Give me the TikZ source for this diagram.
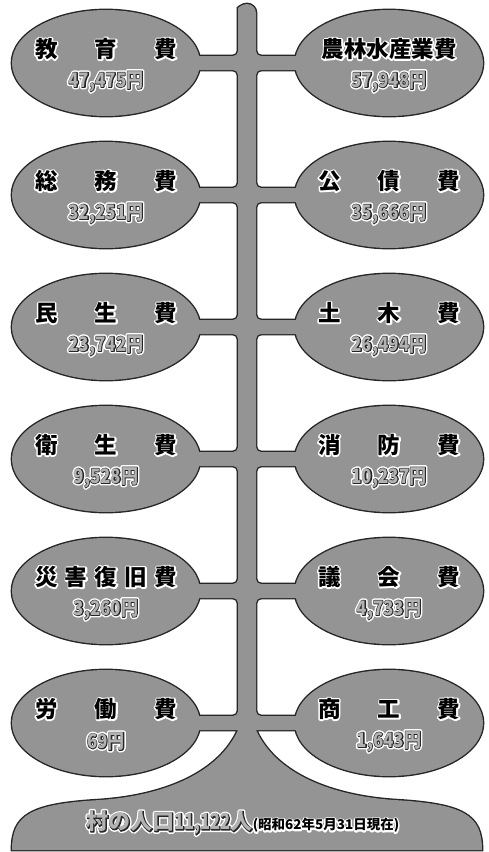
\documentclass[tikz,border=0pt]{standalone}
\usepackage{fontspec}
\usepackage{xcolor}
\usetikzlibrary{shapes.geometric,positioning}

\newfontfamily\cjk{Noto Sans CJK JP}
\newfontfamily\cjknarrow[FakeStretch=0.85]{Noto Sans CJK JP}
\newfontfamily\cjkthin[FakeStretch=0.75]{Noto Sans CJK JP}

\colorlet{treegray}{black!42}
\colorlet{treeline}{black!85}

% spaced title, dark text with white halo, hollow text
\newcommand{\spreadtitle}[2][142pt]{\hbox to #1{#2}}
\newcommand{\strokelayer}[3]{{\color{#2}\special{pdf:literal direct #1 w 1 J 1 j 2 Tr}#3\special{pdf:literal direct 0 Tr 0.4 w}}}
\newcommand{\haloed}[1]{\rlap{\strokelayer{3}{white}{#1}}#1}
\newcommand{\hollow}[1]{\rlap{\strokelayer{4.4}{white}{#1}}\rlap{\strokelayer{1.4}{treeline}{#1}}{\color{black!30}#1}}

% trunk, branches and base as one outline
\newcommand{\treepath}{(256,13) [rounded corners=5pt]
  \foreach \y in {63,195,327,459,591} {-- (256,\y-7) -- (345,\y-7) -- (345,\y+7) -- (256,\y+7)}
  -- (256,716) -- (345,716) -- (345,730) -- (300,730) [sharp corners] -- (256,730)
  .. controls (274,770) and (324,795) .. (394,800)
  .. controls (464,804) and (482,815) .. (482,850)
  -- (12,850)
  .. controls (12,815) and (30,804) .. (100,800)
  .. controls (170,795) and (220,770) .. (238,730)
  -- (200,730) [rounded corners=5pt] -- (150,730) -- (150,716) -- (238,716)
  \foreach \y in {591,459,327,195,63} {-- (238,\y+7) -- (150,\y+7) -- (150,\y-7) -- (238,\y-7)}
  -- (238,13) [sharp corners] arc[start angle=180, end angle=360, radius=9] -- cycle}

\tikzset{
  treepart/.style={draw=treeline, line width=2.8pt},
  bubble/.style={ellipse, fill=treegray, minimum width=188pt, minimum height=106pt, inner sep=0pt},
  titletext/.style={font=\cjk\bfseries\fontsize{22.5}{24}\selectfont, inner sep=0pt},
  numtext/.style={font=\cjknarrow\bfseries\fontsize{20}{22}\selectfont, inner sep=0pt},
}

\begin{document}
\begin{tikzpicture}[x=1pt,y=-1pt]
\useasboundingbox (0,0) rectangle (489,852);

% outlines first
\draw[treepart] \treepath;
\foreach \y in {63,195,327,459,591,723} {
  \draw[treepart] (106,\y) ellipse (94 and 53);
  \draw[treepart] (389,\y) ellipse (94 and 53);
}

% gray fill over the outlines
\fill[treegray] \treepath;

% bubbles
\foreach \i/\y/\lt/\ln/\rt/\rn in {
  1/63/{\spreadtitle{教\hfill 育\hfill 費}}/{47,475円}/{農林水産業費}/{57,948円},
  2/195/{\spreadtitle{総\hfill 務\hfill 費}}/{32,251円}/{\spreadtitle{公\hfill 債\hfill 費}}/{35,666円},
  3/327/{\spreadtitle{民\hfill 生\hfill 費}}/{23,742円}/{\spreadtitle{土\hfill 木\hfill 費}}/{26,494円},
  4/459/{\spreadtitle{衛\hfill 生\hfill 費}}/{9,528円}/{\spreadtitle{消\hfill 防\hfill 費}}/{10,237円},
  5/591/{\spreadtitle{災\hfill 害\hfill 復\hfill 旧\hfill 費}}/{3,260円}/{\spreadtitle{議\hfill 会\hfill 費}}/{4,733円},
  6/723/{\spreadtitle{労\hfill 働\hfill 費}}/{69円}/{\spreadtitle{商\hfill 工\hfill 費}}/{1,643円}} {
  \node[bubble] (L\i) at (106,\y) {};
  \node[bubble] (R\i) at (389,\y) {};
  \node[titletext] (Lt\i) at ([yshift=14pt]L\i.center) {\haloed{\lt}};
  \node[titletext] (Rt\i) at ([yshift=14pt]R\i.center) {\haloed{\rt}};
  \node[numtext] (Ln\i) at ([yshift=-18.5pt]L\i.center) {\hollow{\ln}};
  \node[numtext] (Rn\i) at ([yshift=-18.5pt]R\i.center) {\hollow{\rn}};
}

% population on the base
\node[inner sep=0pt] (pop) at (243,823) {{\cjk\bfseries\fontsize{22}{24}\selectfont
  \hollow{村の人口{\cjkthin 11,122}人}}{\cjk\bfseries\fontsize{13.5}{15}\selectfont\haloed{(昭和62年5月31日現在)}}};
\end{tikzpicture}
\end{document}
